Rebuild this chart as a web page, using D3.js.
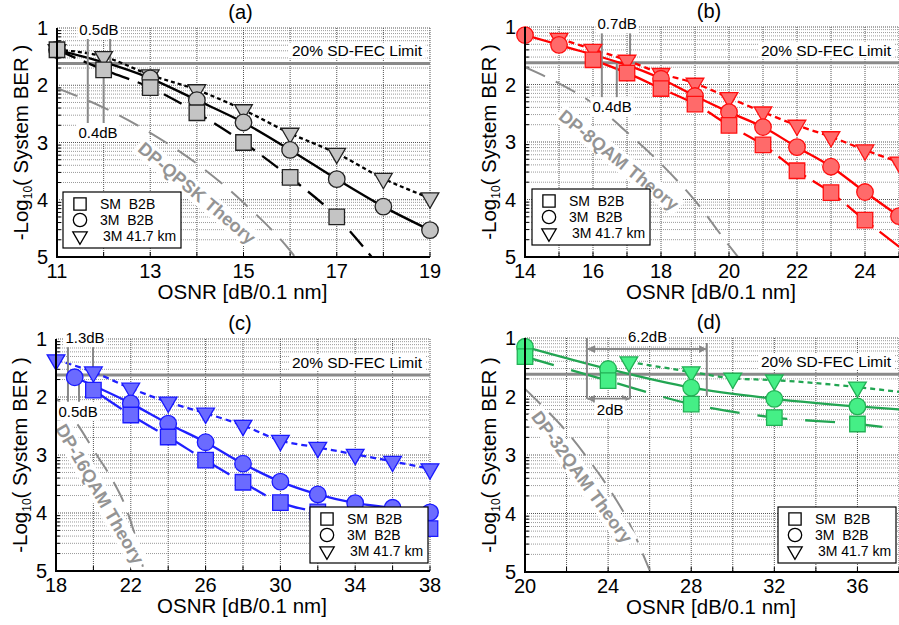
<!DOCTYPE html>
<html>
<head>
<meta charset="utf-8">
<script src="https://cdn.jsdelivr.net/npm/d3@7"></script>
<style>
  body { margin: 0; background: #fff; }
  svg { display: block; font-family: "Liberation Sans", Arial, sans-serif; }
</style>
</head>
<body>
<svg id="chart" width="899" height="625"></svg>
<script>
// -Log10(BER) vs OSNR for 4 modulation formats, SM vs 3M fibre

const fecLimit = 1.62;
const yTicks = [1, 2, 3, 4, 5];

const xTicksA = [11, 13, 15, 17, 19];
const xTicksB = [14, 16, 18, 20, 22, 24];
const xTicksC = [18, 22, 26, 30, 34, 38];
const xTicksD = [20, 24, 28, 32, 36];

// (a) DP-QPSK
const aSM = [[11, 1.38], [12, 1.73], [13, 2.04], [14, 2.48], [15, 3.0], [16, 3.61], [17, 4.30]];
const aSMTail = [[17.75, 5.0]];
const a3M = [[11, 1.38], [13, 1.88], [14, 2.26], [15, 2.65], [16, 3.13], [17, 3.64], [18, 4.12], [19, 4.53]];
const a41 = [[11, 1.38], [12, 1.5], [13, 1.82], [14, 2.08], [15, 2.43], [16, 2.84], [17, 3.19], [18, 3.63], [19, 3.97]];
const thA = [[11, 2.05], [12, 2.39], [13, 2.83], [14, 3.37], [15, 4.05], [16, 4.89], [16.2, 5.1]];

// (b) DP-8QAM
const bSM = [[16, 1.57], [17, 1.8], [18, 2.07], [19, 2.34], [20, 2.71], [21, 3.05], [22, 3.5], [23, 3.88], [24, 4.36]];
const bSMTail = [[25, 4.82]];
const b3M = [[14, 1.14], [15, 1.31], [18, 1.9], [19, 2.2], [20, 2.48], [21, 2.74], [22, 3.09], [23, 3.43], [24, 3.87], [25, 4.29]];
const b41 = [[15, 1.2], [16, 1.39], [17, 1.58], [18, 1.81], [19, 1.98], [20, 2.23], [21, 2.48], [22, 2.71], [23, 2.91], [24, 3.14], [25, 3.35]];
const thB = [[14, 1.70], [15, 1.98], [16, 2.33], [17, 2.83], [18, 3.38], [19, 4.02], [20, 4.8], [20.4, 5.1]];

// (c) DP-16QAM
const cSM = [[20, 1.88], [22, 2.31], [24, 2.69], [26, 3.09], [28, 3.47], [30, 3.82], [32, 3.98], [34, 4.07], [36, 4.15], [38, 4.27]];
const c3M = [[19, 1.66], [22, 2.11], [24, 2.46], [26, 2.78], [28, 3.15], [30, 3.46], [32, 3.68], [34, 3.83], [36, 3.91], [38, 3.99]];
const c41 = [[18, 1.36], [20, 1.57], [22, 1.85], [24, 2.09], [26, 2.28], [28, 2.49], [30, 2.75], [32, 2.87], [34, 2.99], [36, 3.11], [38, 3.24]];
const thC = [[18, 2.02], [19.1, 2.45], [20.1, 2.96], [21, 3.42], [21.6, 3.8], [22.1, 4.25], [22.7, 5.0]];

// (d) DP-32QAM
const dSM = [[20, 1.32], [24, 1.73], [28, 2.13], [32, 2.36], [36, 2.47]];
const dSMTail = [[37.2, 2.52]];
const d3M = [[20, 1.15], [24, 1.53], [28, 1.85], [32, 2.04], [36, 2.17]];
const d3MTail = [[38, 2.22]];
const d41 = [[25, 1.41], [28, 1.58], [30, 1.69], [32, 1.72], [36, 1.84]];
const d41Tail = [[38, 1.92]];
const thD = [[20, 1.87], [21, 2.22], [22, 2.6], [23, 3.05], [24, 3.55], [25, 4.15], [25.8, 4.8], [26, 4.97]];

// annotation lines [osnr, yTop, yBottom] and labels [text, osnr, y]
const annLinesA = [[11.66, 1.16, 2.66], [12.14, 1.16, 1.61], [12.0, 1.56, 2.66]];
const annTextA = [['0.5dB', 11.9, 1.03], ['0.4dB', 11.88, 2.83]];
const annLinesB = [[16.26, 1.0, 2.27], [16.7, 1.63, 2.27], [17.09, 1.0, 1.70]];
const annTextB = [['0.7dB', 16.71, 0.95], ['0.4dB', 16.56, 2.39]];
const annLinesC = [[18.64, 1.14, 2.1], [19.23, 1.66, 2.1], [19.98, 1.14, 1.66]];
const annTextC = [['1.3dB', 19.55, 0.98], ['0.5dB', 19.18, 2.25]];
const annLinesD = [[22.98, 1.0, 2.04], [25.05, 1.32, 2.04], [28.75, 1.085, 1.99]];
const annArrowsD = [[22.98, 28.75, 1.19], [22.98, 25.05, 2.04]];
const annTextD = [['6.2dB', 25.9, 0.98], ['2dB', 24.1, 2.22]];

const legendLabels = ['SM  B2B', '3M  B2B', '3M 41.7 km'];

const panels = [
    { id: 'a', title: '(a)', left: 57, right: 430, top: 28, bottom: 257,
      xDomain: [11, 19], xTicks: xTicksA, gridStep: 1,
      stroke: '#000', fill: '#c4c4c4', mStroke: '#222',
      sm: aSM, smTail: aSMTail, m3: a3M, m3Tail: [], m41: a41, m41Tail: [],
      dash: { sm: '20,9', m3: null, m41: '4,3' },
      theory: thA, theoryLabel: 'DP-QPSK Theory', thPos: [197, 193], thAngle: 40,
      annLines: annLinesA, annText: annTextA, annArrows: [],
      legend: [63, 192] },
    { id: 'b', title: '(b)', left: 525, right: 899, top: 27, bottom: 257,
      xDomain: [14, 25], xTicks: xTicksB, gridStep: 1,
      stroke: '#ff0000', fill: '#ff6a6a', mStroke: '#ff1010',
      sm: bSM, smTail: bSMTail, m3: b3M, m3Tail: [], m41: b41, m41Tail: [],
      dash: { sm: '34,8', m3: null, m41: '6,4' },
      theory: thB, theoryLabel: 'DP-8QAM Theory', thPos: [619, 160], thAngle: 39,
      annLines: annLinesB, annText: annTextB, annArrows: [],
      legend: [532, 189] },
    { id: 'c', title: '(c)', left: 56, right: 430, top: 339, bottom: 571,
      xDomain: [18, 38], xTicks: xTicksC, gridStep: 2,
      stroke: '#2020ff', fill: '#6b6bff', mStroke: '#1a1aff',
      sm: cSM, smTail: [], m3: c3M, m3Tail: [], m41: c41, m41Tail: [],
      dash: { sm: '34,8', m3: null, m41: '6,4' },
      theory: thC, theoryLabel: 'DP-16QAM Theory', thPos: [100, 494], thAngle: 60,
      annLines: annLinesC, annText: annTextC, annArrows: [],
      legend: [310, 507] },
    { id: 'd', title: '(d)', left: 525, right: 899, top: 338, bottom: 572,
      xDomain: [20, 38], xTicks: xTicksD, gridStep: 2,
      stroke: '#22a552', fill: '#45ef86', mStroke: '#22b055',
      sm: dSM, smTail: dSMTail, m3: d3M, m3Tail: d3MTail, m41: d41, m41Tail: d41Tail,
      dash: { sm: '30,18', m3: null, m41: '5,4' },
      theory: thD, theoryLabel: 'DP-32QAM Theory', thPos: [582, 477], thAngle: 54,
      annLines: annLinesD, annText: annTextD, annArrows: annArrowsD,
      legend: [778, 507] }
];

const svg = d3.select('#chart');
const defs = svg.append('defs');
defs.append('marker')
    .attr('id', 'arrow')
    .attr('viewBox', '0 0 10 10')
    .attr('refX', 9).attr('refY', 5)
    .attr('markerWidth', 4).attr('markerHeight', 4)
    .attr('orient', 'auto-start-reverse')
  .append('path')
    .attr('d', 'M0,0L10,5L0,10z')
    .attr('fill', '#888');

// minor grid positions: -log10(k * 10^-(n+1))
const minorY = [];
for (let n = 1; n < 5; n++) {
    for (let k = 9; k >= 2; k--) minorY.push(n + 1 - Math.log10(k));
}

const downTriangle = (size) => d3.symbol().type(d3.symbolTriangle).size(size)();

// text with a white box behind it
function boxedText(g, str, cx, cy, size, color, pad) {
    const t = g.append('g');
    const txt = t.append('text')
        .attr('x', cx).attr('y', cy)
        .attr('dy', '0.35em')
        .attr('text-anchor', 'middle')
        .attr('font-size', size)
        .attr('fill', color)
        .text(str);
    const bb = txt.node().getBBox();
    t.insert('rect', 'text')
        .attr('x', bb.x - pad).attr('y', bb.y - 1)
        .attr('width', bb.width + pad * 2).attr('height', bb.height + 2)
        .attr('fill', '#fff');
    return t;
}

function drawPanel(p) {
    const x = d3.scaleLinear().domain(p.xDomain).range([p.left, p.right]);
    const y = d3.scaleLinear().domain([1, 5]).range([p.top, p.bottom]);
    const g = svg.append('g').attr('class', 'panel-' + p.id);

    const clipId = 'clip-' + p.id;
    defs.append('clipPath').attr('id', clipId)
      .append('rect')
        .attr('x', p.left).attr('y', p.top)
        .attr('width', p.right - p.left).attr('height', p.bottom - p.top);

    // grid
    const grid = g.append('g');
    grid.selectAll('.minor').data(minorY).join('line')
        .attr('x1', p.left).attr('x2', p.right)
        .attr('y1', d => y(d)).attr('y2', d => y(d))
        .attr('stroke', '#9a9a9a').attr('stroke-width', 1)
        .attr('stroke-dasharray', '1,1');
    grid.selectAll('.major').data(yTicks).join('line')
        .attr('x1', p.left).attr('x2', p.right)
        .attr('y1', d => y(d)).attr('y2', d => y(d))
        .attr('stroke', '#555').attr('stroke-width', 1)
        .attr('stroke-dasharray', '1,1');
    const xGrid = d3.range(p.xDomain[0], p.xDomain[1] + 0.001, p.gridStep);
    grid.selectAll('.vx').data(xGrid).join('line')
        .attr('x1', d => x(d)).attr('x2', d => x(d))
        .attr('y1', p.top).attr('y2', p.bottom)
        .attr('stroke', '#555').attr('stroke-width', 1)
        .attr('stroke-dasharray', '1,1');

    // ticks, inward
    g.append('g').selectAll('line').data(xGrid).join('line')
        .attr('x1', d => x(d)).attr('x2', d => x(d))
        .attr('y1', p.bottom).attr('y2', p.bottom - 5)
        .attr('stroke', '#000');
    g.append('g').selectAll('line').data(minorY).join('line')
        .attr('x1', p.left).attr('x2', p.left + 4)
        .attr('y1', d => y(d)).attr('y2', d => y(d))
        .attr('stroke', '#000');

    // theory curve
    const body = g.append('g').attr('clip-path', `url(#${clipId})`);
    const line = d3.line().x(d => x(d[0])).y(d => y(d[1])).curve(d3.curveMonotoneX);
    body.append('path')
        .attr('d', line(p.theory))
        .attr('fill', 'none')
        .attr('stroke', '#8c8c8c')
        .attr('stroke-width', 2)
        .attr('stroke-dasharray', '22,12');

    // theory label with white box
    const tl = body.append('g')
        .attr('transform', `translate(${p.thPos[0]},${p.thPos[1]}) rotate(${p.thAngle})`);
    const tt = tl.append('text')
        .attr('text-anchor', 'middle')
        .attr('dy', '0.35em')
        .attr('font-size', 18)
        .attr('font-weight', 'bold')
        .attr('fill', '#949494')
        .text(p.theoryLabel);
    const tb = tt.node().getBBox();
    tl.insert('rect', 'text')
        .attr('x', tb.x - 3).attr('y', tb.y)
        .attr('width', tb.width + 6).attr('height', tb.height)
        .attr('fill', '#fff');

    // FEC limit
    body.append('line')
        .attr('x1', p.left).attr('x2', p.right)
        .attr('y1', y(fecLimit)).attr('y2', y(fecLimit))
        .attr('stroke', '#8a8a8a').attr('stroke-width', 3);
    const fec = g.append('g');
    const ft = fec.append('text')
        .attr('x', p.right - 8).attr('y', y(fecLimit) - 7)
        .attr('text-anchor', 'end')
        .attr('font-size', 15.5)
        .text('20% SD-FEC Limit');
    const fb = ft.node().getBBox();
    fec.insert('rect', 'text')
        .attr('x', fb.x - 3).attr('y', fb.y)
        .attr('width', fb.width + 6).attr('height', fb.height - 1)
        .attr('fill', '#fff');

    // annotation lines and arrows
    g.append('g').selectAll('line').data(p.annLines).join('line')
        .attr('x1', d => x(d[0])).attr('x2', d => x(d[0]))
        .attr('y1', d => y(d[1])).attr('y2', d => y(d[2]))
        .attr('stroke', '#888').attr('stroke-width', 2);
    g.append('g').selectAll('line').data(p.annArrows).join('line')
        .attr('x1', d => x(d[0]) + 1).attr('x2', d => x(d[1]) - 1)
        .attr('y1', d => y(d[2])).attr('y2', d => y(d[2]))
        .attr('stroke', '#888').attr('stroke-width', 2)
        .attr('marker-start', 'url(#arrow)')
        .attr('marker-end', 'url(#arrow)');

    // data lines
    const series = [
        { pts: p.m41, tail: p.m41Tail, dash: p.dash.m41, shape: 'tri' },
        { pts: p.m3, tail: p.m3Tail, dash: p.dash.m3, shape: 'circle' },
        { pts: p.sm, tail: p.smTail, dash: p.dash.sm, shape: 'square' }
    ];
    series.forEach(s => {
        body.append('path')
            .attr('d', line(s.pts.concat(s.tail)))
            .attr('fill', 'none')
            .attr('stroke', p.stroke)
            .attr('stroke-width', 2.3)
            .attr('stroke-dasharray', s.dash);
    });
    series.forEach(s => {
        const mk = g.append('g').selectAll('path').data(s.pts).join('path')
            .attr('fill', p.fill)
            .attr('stroke', p.mStroke)
            .attr('stroke-width', 1.3);
        if (s.shape === 'square') {
            mk.attr('d', d3.symbol().type(d3.symbolSquare).size(240)())
              .attr('transform', d => `translate(${x(d[0])},${y(d[1])})`);
        } else if (s.shape === 'circle') {
            mk.attr('d', d3.symbol().type(d3.symbolCircle).size(215)())
              .attr('transform', d => `translate(${x(d[0])},${y(d[1])})`);
        } else {
            mk.attr('d', downTriangle(135))
              .attr('transform', d => `translate(${x(d[0])},${y(d[1])}) rotate(180)`);
        }
    });

    // annotation labels
    p.annText.forEach(a => boxedText(g, a[0], x(a[1]), y(a[2]), 15, '#000', 2));

    // axes
    g.append('line')
        .attr('x1', p.left).attr('x2', p.left)
        .attr('y1', p.top).attr('y2', p.bottom + 1)
        .attr('stroke', '#000').attr('stroke-width', 2);
    g.append('line')
        .attr('x1', p.left - 1).attr('x2', p.right)
        .attr('y1', p.bottom).attr('y2', p.bottom)
        .attr('stroke', '#000').attr('stroke-width', 2);

    g.append('g').selectAll('text').data(p.xTicks).join('text')
        .attr('x', d => x(d)).attr('y', p.bottom + 21)
        .attr('text-anchor', 'middle')
        .attr('font-size', 20)
        .text(d => d);
    g.append('g').selectAll('text').data(yTicks).join('text')
        .attr('x', p.left - 9).attr('y', d => y(d))
        .attr('dy', '0.35em')
        .attr('text-anchor', 'end')
        .attr('font-size', 20)
        .text(d => d);

    g.append('text')
        .attr('x', (p.left + p.right) / 2 - 1).attr('y', p.bottom + 42)
        .attr('text-anchor', 'middle')
        .attr('font-size', 20.5)
        .text('OSNR [dB/0.1 nm]');

    const yl = g.append('text')
        .attr('transform', `translate(${p.left - 29},${(p.top + p.bottom) / 2}) rotate(-90)`)
        .attr('text-anchor', 'middle')
        .attr('font-size', 20.5);
    yl.append('tspan').text('-Log');
    yl.append('tspan').attr('font-size', 12).attr('dy', 4).text('10');
    yl.append('tspan').attr('dy', -4).text('( System BER )');

    g.append('text')
        .attr('x', (p.left + p.right) / 2 - 3).attr('y', p.top - 9)
        .attr('text-anchor', 'middle')
        .attr('font-size', 20)
        .text(p.title);

    // legend
    const lg = g.append('g').attr('transform', `translate(${p.legend[0]},${p.legend[1]})`);
    lg.append('rect')
        .attr('width', 118).attr('height', 56)
        .attr('fill', '#fff').attr('stroke', '#000').attr('stroke-width', 1.2);
    const shapes = [
        d3.symbol().type(d3.symbolSquare).size(150)(),
        d3.symbol().type(d3.symbolCircle).size(140)(),
        downTriangle(90)
    ];
    legendLabels.forEach((lab, i) => {
        const yy = 12 + i * 16;
        lg.append('path')
            .attr('d', shapes[i])
            .attr('transform', `translate(17,${yy})` + (i === 2 ? ' rotate(180)' : ''))
            .attr('fill', '#fff').attr('stroke', '#000').attr('stroke-width', 1.3);
        lg.append('text')
            .attr('x', i === 2 ? 40 : 37).attr('y', yy)
            .attr('dy', '0.35em')
            .attr('font-size', 14)
            .attr('xml:space', 'preserve')
            .text(lab);
    });
}

panels.forEach(drawPanel);
</script>
</body>
</html>
